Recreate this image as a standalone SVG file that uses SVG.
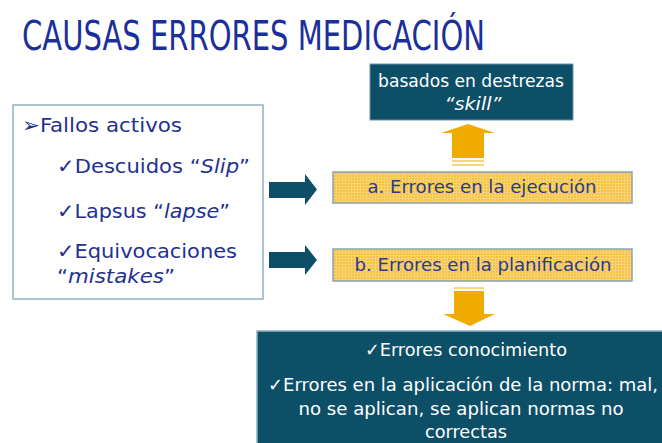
<svg xmlns="http://www.w3.org/2000/svg" width="662" height="443" viewBox="0 0 662 443">
<defs>
<pattern id="grid" width="3" height="3" patternUnits="userSpaceOnUse">
<rect width="3" height="3" fill="#f6c443"/>
<rect width="3" height="1" fill="#f9d373"/>
<rect width="1" height="3" fill="#f9d373"/>
</pattern>
<style>
.t{font-family:"DejaVu Sans Condensed","DejaVu Sans",sans-serif;}
.blue{fill:#1f3190;font-size:20px;}
.yt{fill:#2b3a8c;font-size:18px;}
.wt{fill:#ffffff;font-size:18px;}
.dark{fill:#0d4f67;}
.ybox{fill:url(#grid);stroke:#8aa3b3;stroke-width:1.5;}
.yarrow{fill:#f0ab00;}
.stripe{fill:#f7d679;}
.i{font-style:italic;}
</style>
</defs>
<rect width="662" height="443" fill="#ffffff"/>
<g id="title">
<text class="t" x="22" y="50" font-size="40" fill="#1b2f9c" textLength="463" lengthAdjust="spacingAndGlyphs">CAUSAS ERRORES MEDICACIÓN</text>
</g>
<g id="fallos">
<rect x="13" y="105" width="250" height="194" fill="#ffffff" stroke="#93b1c1" stroke-width="1.5"/>
<text class="t blue" x="22" y="132" textLength="160" lengthAdjust="spacingAndGlyphs">➢Fallos activos</text>
<text class="t blue" x="57" y="173" textLength="193" lengthAdjust="spacingAndGlyphs">✓Descuidos “<tspan class="i">Slip</tspan>”</text>
<text class="t blue" x="57" y="218" textLength="173" lengthAdjust="spacingAndGlyphs">✓Lapsus “<tspan class="i">lapse</tspan>”</text>
<text class="t blue" x="57" y="258" textLength="180" lengthAdjust="spacingAndGlyphs">✓Equivocaciones</text>
<text class="t blue" x="57" y="283" textLength="118" lengthAdjust="spacingAndGlyphs">“<tspan class="i">mistakes</tspan>”</text>
</g>
<g id="skill">
<rect class="dark" x="370" y="64" width="203" height="56" stroke="#6f95a5" stroke-width="1"/>
<text class="t wt" x="471" y="87" text-anchor="middle" textLength="186" lengthAdjust="spacingAndGlyphs">basados en destrezas</text>
<text class="t wt i" x="473" y="110" text-anchor="middle" textLength="57" lengthAdjust="spacingAndGlyphs">“skill”</text>
</g>
<g id="ejecucion">
<rect class="ybox" x="333" y="172" width="299" height="31"/>
<text class="t yt" x="482" y="193" text-anchor="middle" textLength="229" lengthAdjust="spacingAndGlyphs">a. Errores en la ejecución</text>
</g>
<g id="planificacion">
<rect class="ybox" x="333" y="249" width="299" height="32"/>
<text class="t yt" x="483" y="271" text-anchor="middle" textLength="257" lengthAdjust="spacingAndGlyphs">b. Errores en la planificación</text>
</g>
<g id="conocimiento">
<rect class="dark" x="257" y="331" width="410" height="115" stroke="#8fb0bf" stroke-width="1.5"/>
<text class="t wt" x="466" y="356" text-anchor="middle" textLength="202" lengthAdjust="spacingAndGlyphs">✓Errores conocimiento</text>
<text class="t wt" x="268" y="391" textLength="390" lengthAdjust="spacingAndGlyphs">✓Errores en la aplicación de la norma: mal,</text>
<text class="t wt" x="461" y="415" text-anchor="middle" textLength="325" lengthAdjust="spacingAndGlyphs">no se aplican, se aplican normas no</text>
<text class="t wt" x="466" y="438" text-anchor="middle" textLength="82" lengthAdjust="spacingAndGlyphs">correctas</text>
</g>
<g id="connectors">
<path class="dark" d="M269,182 H305 V174 L317,189.5 L305,205 V198 H269 Z"/>
<path class="dark" d="M269,252 H305 V245 L317,260 L305,275 V268 H269 Z"/>
<path class="yarrow" d="M452,158 V133 H441 L468,124 L495,133 H484 V158 Z"/>
<rect class="stripe" x="452" y="160" width="32" height="2"/>
<rect class="stripe" x="452" y="164" width="32" height="2"/>
<path class="yarrow" d="M454,291 V314 H443 L470,326 L495,314 H484 V291 Z"/>
<rect class="stripe" x="454" y="287" width="30" height="2"/>
</g>
</svg>
